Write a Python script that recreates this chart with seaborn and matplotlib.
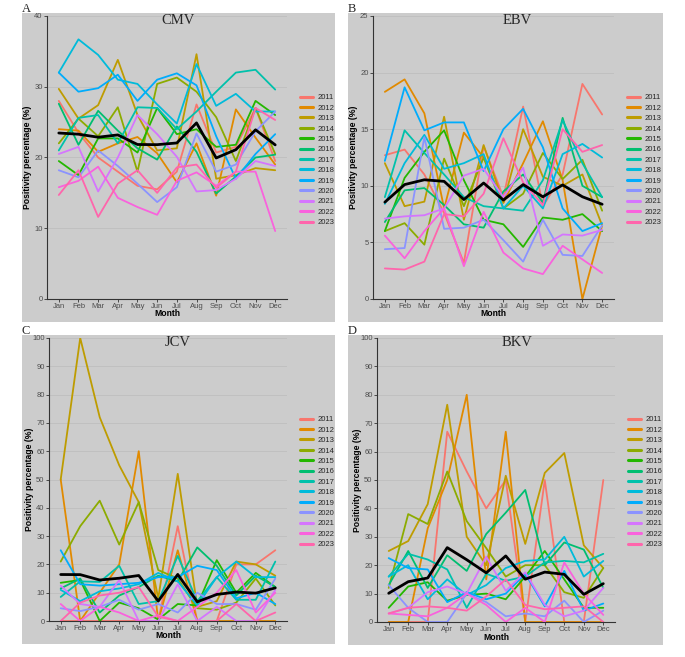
import numpy as np
import pandas as pd
import matplotlib
matplotlib.use("Agg")
import matplotlib.pyplot as plt
import seaborn as sns
from matplotlib.patches import Rectangle
from matplotlib.lines import Line2D

# Data (positivity percentage per month, one row per year)
months = ['Jan', 'Feb', 'Mar', 'Apr', 'May', 'Jun', 'Jul', 'Aug', 'Sep', 'Oct', 'Nov', 'Dec']
years = ['2011', '2012', '2013', '2014', '2015', '2016', '2017',
         '2018', '2019', '2020', '2021', '2022', '2023']

cmv = [
    [28.0, 23.5, 20.0, 18.0, 16.0, 15.5, 18.0, 27.5, 20.7, 21.5, 27.0, 19.5],
    [24.0, 23.8, 20.8, 22.0, 22.9, 20.6, 16.5, 22.0, 14.6, 26.8, 22.8, 19.0],
    [29.7, 25.5, 27.4, 33.8, 26.0, 21.0, 21.3, 34.6, 17.0, 17.5, 18.5, 18.2],
    [22.0, 25.5, 23.0, 27.1, 18.0, 30.4, 31.3, 29.3, 25.7, 19.5, 27.0, 20.5],
    [19.5, 17.5, 22.7, 22.7, 20.7, 27.0, 23.3, 24.0, 21.5, 21.8, 28.0, 26.0],
    [27.6, 21.8, 26.6, 23.8, 21.3, 19.7, 24.4, 20.8, 14.9, 17.3, 20.0, 20.4],
    [21.0, 25.6, 26.0, 22.0, 27.1, 27.0, 24.0, 26.5, 29.3, 32.0, 32.4, 29.6],
    [32.0, 36.7, 34.5, 31.0, 30.4, 27.5, 24.8, 33.2, 27.3, 29.0, 26.5, 26.5],
    [32.0, 29.3, 29.8, 31.7, 28.0, 31.0, 31.9, 30.2, 23.0, 17.0, 20.5, 23.3],
    [18.2, 17.2, 21.0, 18.8, 16.3, 13.7, 15.8, 23.4, 18.0, 19.0, 23.7, 26.5],
    [20.5, 21.5, 15.2, 20.0, 26.0, 23.3, 20.1, 15.2, 15.4, 17.0, 19.5, 18.8],
    [15.8, 16.7, 18.7, 14.3, 13.0, 11.9, 16.7, 17.9, 16.0, 18.0, 18.0, 9.6],
    [14.7, 18.2, 11.6, 16.3, 18.2, 15.0, 18.6, 19.0, 15.7, 18.0, 27.0, 25.3],
]

ebv = [
    [12.7, 13.2, 11.0, 7.6, 3.2, 13.5, 9.0, 17.0, 8.2, 11.0, 19.0, 16.3],
    [18.3, 19.4, 16.4, 8.0, 14.7, 12.5, 8.5, 12.0, 15.7, 10.5, 0.0, 6.5],
    [12.0, 8.2, 8.6, 16.1, 7.0, 13.6, 8.5, 15.0, 10.8, 10.0, 11.0, 6.5],
    [6.0, 6.7, 4.8, 12.4, 8.2, 12.5, 8.0, 9.3, 12.9, 10.6, 12.3, 7.8],
    [6.0, 10.7, 13.0, 14.9, 10.5, 7.0, 6.6, 4.6, 7.2, 7.0, 7.5, 6.0],
    [6.8, 9.6, 9.8, 8.3, 6.6, 6.3, 9.5, 11.0, 8.5, 16.0, 10.0, 9.0],
    [9.0, 14.9, 12.9, 11.0, 9.0, 8.2, 8.0, 7.8, 10.5, 15.8, 12.0, 9.0],
    [8.4, 12.0, 14.5, 11.5, 12.0, 12.8, 8.0, 10.0, 8.0, 12.8, 13.7, 12.5],
    [12.2, 18.7, 14.9, 15.6, 15.6, 11.3, 15.0, 16.8, 13.4, 8.0, 6.0, 6.7],
    [4.4, 4.5, 14.3, 6.2, 6.3, 7.0, 5.2, 3.3, 7.0, 3.9, 3.8, 6.5],
    [7.1, 7.3, 7.4, 8.0, 10.9, 11.5, 9.0, 11.6, 4.7, 5.7, 5.6, 6.1],
    [5.6, 3.6, 6.0, 8.0, 2.9, 7.7, 4.1, 2.7, 2.2, 4.7, 3.5, 2.3],
    [2.7, 2.6, 3.3, 7.5, 7.3, 9.3, 14.2, 10.3, 8.3, 15.0, 13.0, 13.6],
]

jcv = [
    [0.0, 0.0, 0.0, 0.0, 0.0, 0.0, 33.5, 0.0, 0.0, 20.0, 20.0, 25.0],
    [50.0, 0.0, 10.0, 20.0, 60.0, 0.0, 25.0, 0.0, 0.0, 0.0, 0.0, 0.0],
    [50.0, 100.0, 72.0, 55.0, 42.0, 8.0, 52.0, 5.0, 7.0, 21.0, 20.0, 16.0],
    [21.0, 33.5, 42.5, 27.0, 42.0, 18.0, 15.0, 4.5, 4.0, 6.5, 15.0, 5.5],
    [13.5, 14.5, 0.0, 6.5, 4.5, 0.5, 6.0, 5.5, 21.5, 10.0, 17.0, 12.0],
    [11.5, 15.0, 3.0, 9.0, 12.0, 16.0, 14.0, 26.0, 19.5, 9.0, 16.0, 12.0],
    [8.5, 14.0, 13.8, 19.5, 6.0, 7.0, 23.0, 7.0, 15.5, 7.5, 7.5, 21.0],
    [11.0, 7.0, 10.5, 11.5, 13.0, 17.0, 14.0, 5.5, 15.5, 21.0, 15.5, 15.5],
    [25.0, 13.0, 12.5, 13.0, 13.5, 15.5, 15.5, 19.5, 18.0, 8.0, 10.0, 6.0],
    [4.5, 3.5, 5.0, 7.5, 4.0, 6.0, 3.0, 10.0, 6.0, 6.0, 4.0, 15.0],
    [12.5, 6.0, 5.0, 14.5, 0.0, 0.0, 13.0, 0.0, 5.0, 0.0, 0.0, 11.0],
    [6.0, 0.0, 5.0, 3.0, 0.0, 2.0, 0.0, 5.0, 10.0, 18.0, 3.0, 10.0],
    [0.0, 6.5, 9.0, 10.0, 12.0, 1.5, 0.0, 0.0, 0.0, 6.0, 0.0, 3.0],
]

bkv = [
    [0.0, 0.0, 0.0, 67.0, 53.0, 40.0, 50.0, 0.0, 50.0, 0.0, 0.0, 50.0],
    [0.0, 0.0, 33.0, 50.0, 80.0, 15.0, 67.0, 0.0, 0.0, 0.0, 0.0, 0.0],
    [25.0, 28.5, 41.5, 76.5, 30.0, 20.0, 51.5, 27.5, 52.5, 59.5, 27.0, 19.0],
    [12.0, 38.0, 34.5, 53.0, 35.5, 26.0, 16.0, 20.0, 20.0, 10.5, 8.5, 19.0],
    [5.0, 12.5, 14.0, 7.5, 9.5, 10.0, 8.0, 16.0, 25.0, 15.0, 5.0, 5.0],
    [13.0, 25.0, 12.0, 23.5, 18.0, 31.0, 38.5, 46.5, 20.0, 28.0, 25.5, 12.0],
    [16.0, 24.0, 22.0, 18.5, 5.0, 17.0, 14.5, 16.0, 21.0, 21.5, 21.0, 24.0],
    [16.0, 20.0, 8.0, 15.0, 9.5, 13.0, 19.0, 21.5, 22.0, 30.0, 16.0, 21.5],
    [22.5, 19.0, 18.5, 7.0, 10.5, 8.0, 10.0, 17.0, 5.5, 18.0, 4.0, 6.5],
    [13.0, 5.0, 0.0, 0.0, 10.0, 7.0, 2.0, 3.0, 2.0, 7.5, 0.0, 4.0],
    [3.0, 5.0, 10.5, 12.5, 10.0, 23.0, 11.0, 17.5, 6.0, 2.0, 4.0, 12.0],
    [3.0, 2.5, 2.0, 5.0, 10.0, 6.0, 0.0, 5.0, 0.0, 21.0, 10.0, 2.5],
    [3.0, 5.0, 5.5, 5.0, 4.0, 9.0, 15.0, 6.0, 4.5, 5.0, 5.5, 0.0],
]

palette = ['#F8766D', '#E18A00', '#BE9C00', '#8CAB00', '#24B700', '#00BE70', '#00C1AB',
           '#00BBDA', '#00ACFC', '#8B93FF', '#D575FE', '#F962DD', '#FF65AC']

W, H = 685, 657
grey = '#CCCCCC'


def long_table(values):
    rows = []
    for y, row in zip(years, values):
        for m, v in enumerate(row):
            rows.append({'year': y, 'month': m, 'value': v})
    return pd.DataFrame(rows)


# panel settings in pixels: name, data, ymax, ystep, letter, grey box, axes box
panels = [
    ('CMV', cmv, 40, 10, 'A', (22, 13, 335, 322), (47, 16, 287, 299)),
    ('EBV', ebv, 25, 5, 'B', (348, 13, 663, 322), (373, 16, 614, 299)),
    ('JCV', jcv, 100, 10, 'C', (22, 335, 335, 644), (49, 338, 287, 621)),
    ('BKV', bkv, 100, 10, 'D', (348, 335, 663, 645), (377, 338, 615, 622)),
]
title_x = {'CMV': 0.546, 'EBV': 0.598, 'JCV': 0.542, 'BKV': 0.588}

sns.set_style('white')
plt.rcParams['font.family'] = ['Liberation Sans', 'DejaVu Sans']

fig = plt.figure(figsize=(W / 100, H / 100), dpi=100)
fig.patch.set_facecolor('white')

for name, values, ymax, ystep, letter, gbox, abox in panels:
    gx0, gy0, gx1, gy1 = gbox
    fig.patches.append(Rectangle((gx0 / W, 1 - gy1 / H), (gx1 - gx0) / W, (gy1 - gy0) / H,
                                 transform=fig.transFigure, facecolor=grey,
                                 edgecolor='none', zorder=-10))
    l, t, r, b = abox
    ax = fig.add_axes([l / W, 1 - b / H, (r - l) / W, (b - t) / H])
    ax.set_facecolor(grey)

    df = long_table(values)
    sns.lineplot(data=df, x='month', y='value', hue='year', palette=palette,
                 linewidth=1.3, legend=False, ax=ax)
    # monthly mean across years
    sns.lineplot(data=df, x='month', y='value', estimator='mean', errorbar=None,
                 color='black', linewidth=2.0, ax=ax)

    ax.set_xlim(-0.6, 11.6)
    ax.set_ylim(0, ymax)
    ax.set_xticks(range(12))
    ax.set_xticklabels(months)
    ax.set_yticks(np.arange(0, ymax + 1, ystep))
    ax.yaxis.grid(True, color='#BBBBBB', linewidth=0.5)
    ax.xaxis.grid(False)
    ax.set_axisbelow(True)
    for s in ['top', 'right']:
        ax.spines[s].set_visible(False)
    for s in ['left', 'bottom']:
        ax.spines[s].set_color('#333333')
        ax.spines[s].set_linewidth(0.8)
    ax.tick_params(axis='both', length=2, width=0.6, color='#333333',
                   labelsize=5.5, labelcolor='#4D4D4D', pad=1.2, direction='out',
                   bottom=True, left=True)

    ax.set_xlabel('Month', fontsize=6.2, fontweight='bold', color='black')
    ax.set_ylabel('Positivity percentage (%)', fontsize=6.2, fontweight='bold', color='black')
    ax.xaxis.set_label_coords(0.5, -10.5 / (b - t))
    ax.yaxis.set_label_coords(-14.5 / (r - l), 0.5)

    ax.text(title_x[name], 0.983, name, transform=ax.transAxes, ha='center', va='center',
            fontsize=10.5, fontfamily='Liberation Serif')

    fig.text(gx0 / W, 1 - (gy0 - 10) / H, letter, ha='left', va='top',
             fontsize=9, fontfamily='Liberation Serif')

    handles = [Line2D([0], [0], color=c, linewidth=2.2) for c in palette]
    ax.legend(handles, years, loc='upper left', frameon=False,
              bbox_to_anchor=((r + 13) / W, 1 - (t + 78) / H),
              bbox_transform=fig.transFigure, fontsize=5.5, handlelength=1.7,
              handletextpad=0.6, labelspacing=0.4, borderpad=0, borderaxespad=0)

fig.savefig('out.png', dpi=100)
